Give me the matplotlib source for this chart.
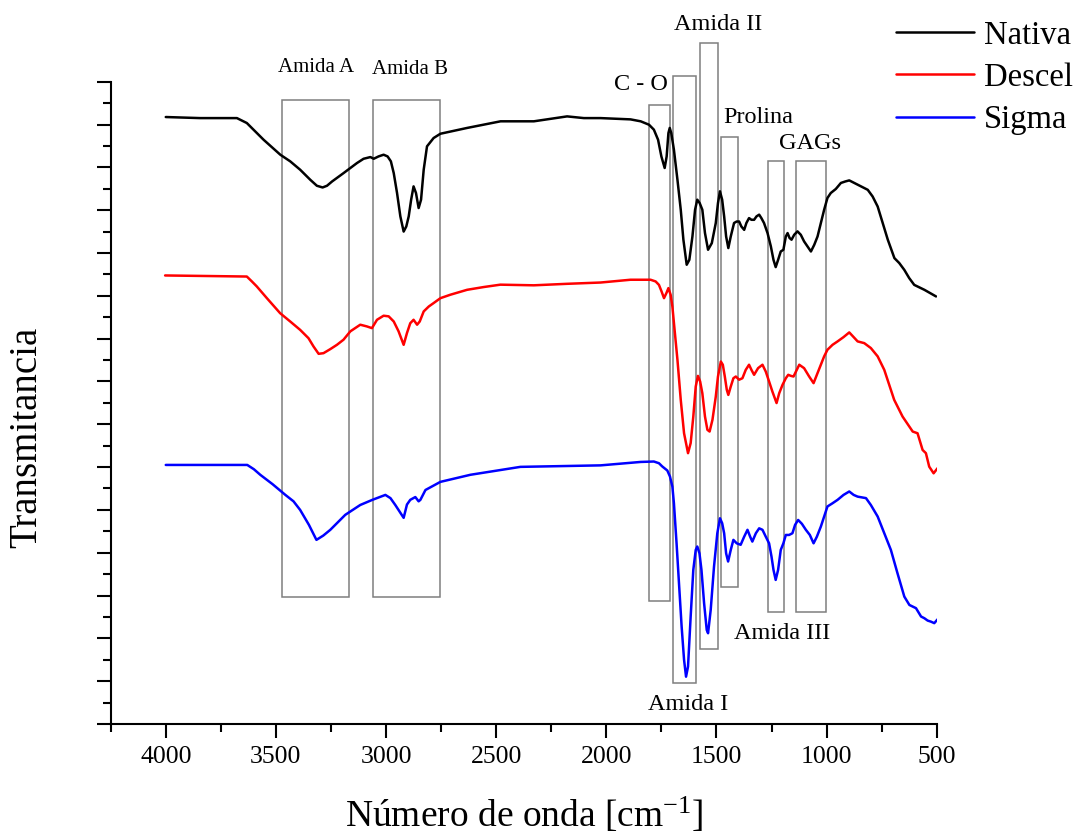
import matplotlib
matplotlib.use("Agg")
import matplotlib.pyplot as plt
from matplotlib.patches import Rectangle
from matplotlib.ticker import MultipleLocator

plt.rcParams['font.family'] = ['Liberation Serif', 'DejaVu Serif']
plt.rcParams['mathtext.fontset'] = 'custom'
plt.rcParams['mathtext.rm'] = 'Liberation Serif'
plt.rcParams['mathtext.it'] = 'Liberation Serif:italic'

# ---------------- data ----------------
wn_nativa = [4000, 3844, 3677, 3632, 3556, 3480, 3435, 3390, 3344, 3314, 3288, 3268, 3245,
             3193, 3132, 3102, 3071, 3056, 3034, 3011, 2993, 2978, 2965, 2950, 2935, 2920,
             2908, 2897, 2886, 2875, 2864, 2852, 2841, 2829, 2814, 2784, 2753, 2632, 2480,
             2329, 2178, 2102, 2026, 1890, 1844, 1806, 1784, 1765, 1750, 1735, 1726, 1718,
             1712, 1705, 1693, 1677, 1662, 1650, 1635, 1623, 1609, 1597, 1587, 1576, 1564,
             1552, 1538, 1521, 1503, 1493, 1484, 1474, 1465, 1456, 1446, 1435, 1420, 1408,
             1397, 1387, 1374, 1364, 1352, 1341, 1329, 1318, 1306, 1296, 1284, 1268, 1253,
             1241, 1231, 1220, 1208, 1196, 1185, 1177, 1168, 1159, 1147, 1132, 1117, 1102,
             1087, 1071, 1056, 1041, 1026, 1011, 996, 981, 958, 935, 915, 897, 874, 844,
             813, 791, 768, 745, 722, 692, 670, 647, 625, 602, 556, 503]
t_nativa = [28.35, 28.30, 28.30, 28.07, 27.29, 26.59, 26.28, 25.89, 25.42, 25.14, 25.06, 25.14,
            25.34, 25.73, 26.20, 26.40, 26.48, 26.40, 26.51, 26.59, 26.51, 26.28, 25.73, 24.80,
            23.71, 23.00, 23.24, 23.71, 24.49, 25.11, 24.80, 24.10, 24.49, 25.89, 26.98, 27.37,
            27.57, 27.84, 28.15, 28.15, 28.38, 28.30, 28.30, 28.24, 28.15, 27.99, 27.76, 27.29,
            26.51, 25.97, 26.51, 27.60, 27.84, 27.60, 26.82, 25.42, 24.02, 22.62, 21.45, 21.68,
            22.77, 24.02, 24.49, 24.33, 24.02, 22.93, 22.15, 22.46, 23.40, 24.33, 24.88, 24.49,
            23.71, 22.77, 22.23, 22.77, 23.40, 23.47, 23.47, 23.24, 23.08, 23.40, 23.63, 23.55,
            23.55, 23.71, 23.79, 23.63, 23.40, 22.93, 22.31, 21.68, 21.34, 21.68, 22.07, 22.15,
            22.77, 22.93, 22.70, 22.62, 22.85, 23.01, 22.85, 22.54, 22.31, 22.07, 22.38, 22.77,
            23.40, 24.02, 24.57, 24.80, 24.99, 25.27, 25.34, 25.39, 25.27, 25.11, 24.95, 24.64,
            24.17, 23.40, 22.62, 21.76, 21.53, 21.21, 20.83, 20.51, 20.28, 19.97]

wn_descel = [4003, 3632, 3609, 3587, 3541, 3481, 3435, 3390, 3352, 3329, 3306, 3284, 3253,
             3223, 3193, 3162, 3117, 3087, 3064, 3041, 3011, 2988, 2965, 2943, 2920, 2905,
             2890, 2875, 2859, 2847, 2829, 2806, 2784, 2753, 2708, 2632, 2556, 2481, 2329,
             2178, 2026, 1890, 1799, 1776, 1761, 1749, 1738, 1727, 1718, 1708, 1700, 1690,
             1677, 1662, 1647, 1629, 1617, 1605, 1594, 1584, 1574, 1564, 1552, 1541, 1531,
             1518, 1503, 1493, 1480, 1471, 1462, 1453, 1446, 1435, 1423, 1412, 1397, 1382,
             1367, 1352, 1341, 1329, 1311, 1291, 1276, 1261, 1246, 1227, 1215, 1200, 1185,
             1174, 1162, 1150, 1124, 1102, 1079, 1059, 1041, 1026, 1011, 996, 973, 950, 923,
             897, 877, 859, 829, 799, 768, 738, 693, 655, 609, 587, 564, 549, 534, 514, 496]
t_descel = [20.95, 20.90, 20.67, 20.44, 19.89, 19.19, 18.80, 18.41, 18.02, 17.63, 17.29, 17.32,
            17.51, 17.71, 17.95, 18.34, 18.65, 18.57, 18.49, 18.88, 19.07, 19.04, 18.80, 18.34,
            17.71, 18.26, 18.72, 18.88, 18.65, 18.80, 19.27, 19.50, 19.66, 19.89, 20.05, 20.28,
            20.41, 20.52, 20.49, 20.56, 20.62, 20.75, 20.75, 20.67, 20.51, 20.20, 19.89, 20.13,
            20.36, 20.05, 19.50, 18.41, 17.01, 15.14, 13.58, 12.65, 13.12, 14.36, 15.76, 16.26,
            16.00, 15.45, 14.36, 13.74, 13.66, 14.21, 15.29, 16.23, 16.93, 16.78, 16.23, 15.61,
            15.37, 15.76, 16.15, 16.23, 16.08, 16.15, 16.54, 16.78, 16.54, 16.31, 16.62, 16.78,
            16.46, 16.00, 15.53, 14.99, 15.45, 15.84, 16.15, 16.31, 16.26, 16.23, 16.78, 16.62,
            16.23, 15.92, 16.39, 16.78, 17.17, 17.48, 17.71, 17.87, 18.07, 18.29, 18.07, 17.87,
            17.79, 17.56, 17.17, 16.54, 15.14, 14.36, 13.66, 13.58, 12.80, 12.65, 12.02, 11.71,
            11.95]

wn_sigma = [4000, 3630, 3600, 3571, 3515, 3457, 3420, 3390, 3350, 3316, 3285, 3253, 3185,
            3117, 3062, 3003, 2980, 2958, 2920, 2905, 2890, 2867, 2852, 2844, 2821, 2753,
            2617, 2390, 2026, 1844, 1784, 1761, 1746, 1723, 1711, 1700, 1693, 1681, 1670,
            1658, 1647, 1638, 1629, 1617, 1605, 1594, 1587, 1577, 1568, 1556, 1544, 1538,
            1526, 1511, 1496, 1484, 1474, 1465, 1456, 1447, 1435, 1423, 1408, 1390, 1374,
            1359, 1347, 1337, 1321, 1306, 1291, 1276, 1261, 1250, 1241, 1231, 1220, 1208,
            1196, 1185, 1170, 1155, 1143, 1129, 1112, 1094, 1076, 1059, 1044, 1026, 1011,
            996, 973, 950, 923, 897, 877, 859, 821, 799, 768, 738, 708, 678, 647, 624, 594,
            571, 556, 541, 526, 511, 496]
t_sigma = [12.10, 12.10, 11.90, 11.64, 11.20, 10.70, 10.40, 10.00, 9.30, 8.60, 8.80, 9.07, 9.77,
           10.23, 10.47, 10.70, 10.55, 10.23, 9.63, 10.25, 10.47, 10.60, 10.40, 10.47, 10.93,
           11.31, 11.64, 12.01, 12.08, 12.24, 12.26, 12.18, 12.03, 11.84, 11.56, 11.09, 10.31,
           8.44, 6.57, 4.55, 3.00, 2.21, 2.68, 5.02, 7.20, 8.13, 8.29, 7.97, 7.20, 5.64, 4.39,
           4.24, 5.33, 7.35, 8.91, 9.61, 9.38, 8.91, 7.97, 7.59, 8.13, 8.60, 8.44, 8.37, 8.75,
           9.07, 8.75, 8.52, 8.91, 9.14, 9.07, 8.75, 8.44, 7.82, 7.20, 6.73, 7.20, 8.13, 8.44,
           8.83, 8.83, 8.91, 9.30, 9.53, 9.35, 9.07, 8.83, 8.44, 8.75, 9.22, 9.69, 10.16, 10.31,
           10.47, 10.70, 10.86, 10.70, 10.62, 10.55, 10.23, 9.69, 8.91, 8.13, 7.04, 5.95, 5.56,
           5.41, 5.02, 4.94, 4.83, 4.78, 4.71, 4.89]

series_names = ["Nativa", "Descel", "Sigma"]
series_colors = ["#000000", "#ff0000", "#0000ff"]

# band boxes: (wavenumber left, wavenumber right, bottom, top)
box_left = [3473, 3059, 1806, 1695, 1574, 1477, 1265, 1138]
box_right = [3167, 2753, 1712, 1594, 1491, 1404, 1194, 1003]
box_bottom = [5.95, 5.95, 5.75, 1.93, 3.49, 6.39, 5.25, 5.25]
box_top = [29.13, 29.13, 28.89, 30.25, 31.80, 27.44, 26.28, 26.28]

band_labels = ["Amida A", "Amida B", "C - O", "Amida I", "Amida II", "Prolina", "Amida III", "GAGs"]
label_x = [3318, 2890, 1845, 1630, 1492, 1312, 1202, 1073]
label_y = [30.65, 30.56, 29.86, 0.89, 32.66, 28.35, 4.24, 27.10]
label_size = [15, 15, 17.5, 17.5, 17.5, 17.5, 17.5, 17.5]

# ---------------- figure ----------------
W, H = 1078, 838
fig = plt.figure(figsize=(W / 100, H / 100), dpi=100)
ax_l, ax_r, ax_t, ax_b = 110.7, 936.7, 81.7, 724.0
ax = fig.add_axes([ax_l / W, 1 - ax_b / H, (ax_r - ax_l) / W, (ax_b - ax_t) / H])

for x, y, name, col in zip([wn_nativa, wn_descel, wn_sigma], [t_nativa, t_descel, t_sigma],
                           series_names, series_colors):
    ax.plot(x, y, color=col, lw=1.8, label=name, zorder=3,
            solid_joinstyle='round', solid_capstyle='round')

for l, r, b, t in zip(box_left, box_right, box_bottom, box_top):
    ax.add_patch(Rectangle((r, b), l - r, t - b, fill=False, edgecolor='#7f7f7f',
                           lw=1.1, zorder=2, clip_on=False))

for txt, x, y, s in zip(band_labels, label_x, label_y, label_size):
    ax.text(x, y, txt, ha='center', va='center', fontsize=s, clip_on=False)

ax.set_xlim(4250, 500)
ax.set_ylim(0, 30)
ax.xaxis.set_major_locator(MultipleLocator(500))
ax.xaxis.set_minor_locator(MultipleLocator(250))
ax.yaxis.set_major_locator(MultipleLocator(2))
ax.yaxis.set_minor_locator(MultipleLocator(1))
ax.tick_params(axis='both', which='major', direction='out', length=10, width=1.5,
               labelsize=18.5, pad=6)
ax.tick_params(axis='both', which='minor', direction='out', length=5.5, width=1.5)
ax.tick_params(axis='y', which='both', labelleft=False)
for s in ['top', 'right']:
    ax.spines[s].set_visible(False)
for s in ['left', 'bottom']:
    ax.spines[s].set_linewidth(1.5)

ax.set_xlabel("Número de onda [cm$^{-1}$]", fontsize=27)
ax.xaxis.set_label_coords(0.5, -(815 - ax_b) / (ax_b - ax_t))
ax.xaxis.label.set_va('center')
ax.set_ylabel("Transmitancia", fontsize=28)
ax.yaxis.set_label_coords(-(ax_l - 26.7) / (ax_r - ax_l), (ax_b - 437) / (ax_b - ax_t))
ax.yaxis.label.set_va('center')

leg = fig.legend(loc='upper left', bbox_to_anchor=(896 / W, 1 - 20 / H), frameon=False,
                 fontsize=23.5, handlelength=2.4, handletextpad=0.3, labelspacing=0.36,
                 borderpad=0, borderaxespad=0)
for h in leg.get_lines():
    h.set_linewidth(1.8)

fig.savefig("out.png", dpi=100)
